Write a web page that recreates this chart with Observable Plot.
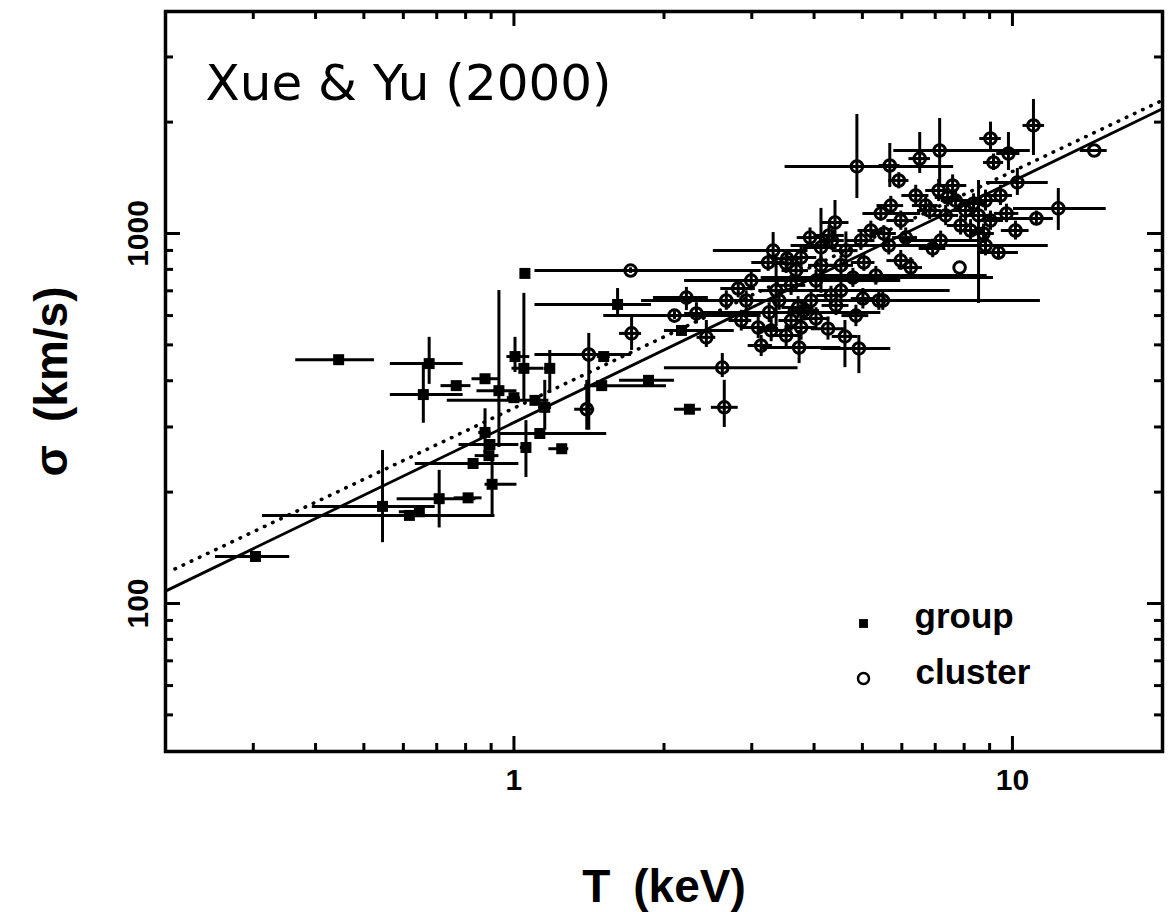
<!DOCTYPE html>
<html>
<head>
<meta charset="utf-8">
<script src="https://cdn.jsdelivr.net/npm/d3@7"></script>
<script src="https://cdn.jsdelivr.net/npm/@observablehq/plot@0.6"></script>
<style>
  html, body { margin: 0; padding: 0; background: #fff; }
  #chart svg { display: block; }
</style>
</head>
<body>
<div id="chart"></div>
<script>
// ---------------- data ----------------
// groups (filled squares)
const groupT     = [0.303,0.445,0.766,0.875,1.005,1.0,1.102,0.895,0.891,0.828,0.904,0.809,0.646,0.617,1.052,1.614,1.514,1.18,1.862,1.5,1.127,1.247,2.168,2.249,0.545,0.676,0.658,0.708,0.933,1.047,0.875,1.057,1.153];
const groupSigma = [134,456,388,405,465,360,354,269,251,239,210,193,177,173,780,643,465,432,401,388,288,262,547,335,183,445,367,192,376,432,290,264,339];
const groupTlo   = [0.252,0.365,0.714,0.824,0.968,0.97,0.735,0.776,0.836,0.634,0.875,0.759,0.589,0.313,1.03,1.102,1.47,1.15,1.629,1.387,0.933,1.175,2.004,2.099,0.394,0.565,0.565,0.583,0.843,0.991,0.85,1.03,1.12];
const groupThi   = [0.355,0.525,0.82,0.933,1.076,1.03,1.175,1.023,0.933,1.023,1.014,0.863,0.661,0.916,1.07,1.888,1.56,1.21,2.099,2.023,1.535,1.288,2.767,2.377,0.695,0.791,0.791,0.839,1.014,1.148,0.9,1.08,1.19];
const groupSlo   = [130,445,380,397,421,350,346,262,245,233,173,188,173,169,765,593,455,370,394,381,282,257,537,328,146,391,307,160,264,354,254,219,294];
const groupShi   = [138,467,396,413,524,370,362,276,257,245,251,198,181,177,795,710,475,483,408,395,294,267,557,342,259,524,445,229,701,689,336,312,401];

// clusters (open circles)
const clusterT     = [1.714,2.218,2.099,2.323,1.722,2.432,1.413,2.618,2.642,1.400,3.311,3.236,3.516,3.767,4.130,4.285,4.406,5.445,2.818,2.924,3.251,3.404,3.090,3.715,3.819,3.767,3.733,4.266,4.613,4.920,5.395,5.012,4.786,5.035,4.875,5.675,5.916,6.516,7.145,9.036,9.162,9.817,11.02,14.59,10.23,12.36,11.17,9.376,7.834,6.252,6.918,6.109,5.495,8.551,7.586,7.112,9.727,7.691,8.054,7.345,8.831,8.241,6.699,5.200,5.649,5.970,4.036,4.325,3.597,4.529,5.521,6.823,3.926,4.345,3.532,8.750,8.356,4.036,3.516,3.133,4.426,3.945,
                      7.413,7.870,9.036,9.462,7.178,6.397,5.702,4.634,4.966,3.681,3.357,4.130,4.529,4.853,3.597,3.281,2.858,2.992,2.667,5.321,5.970,8.831,10.14];
const clusterSigma = [794,671,600,608,537,524,471,434,339,335,899,835,830,861,917,988,1071,1133,710,659,612,659,557,631,619,557,492,553,527,489,659,667,760,835,1518,1527,1391,1594,1676,1806,1556,1645,1959,1676,1374,1169,1098,888,809,809,911,975,659,1119,1348,1307,1133,1228,1154,1119,1228,1019,1190,1019,928,1084,746,680,724,820,1000,1154,975,957,855,1000,1205,589,530,498,639,659,
                      1251,1051,1084,1267,957,1267,1190,899,957,794,701,820,701,600,582,547,582,746,659,770,845,928,1019];
const clusterTlo   = [1.102,1.905,1.514,2.20,1.629,2.33,1.102,2.004,2.489,1.324,2.512,3.0,3.3,3.5,3.8,4.0,4.15,5.012,2.6,1.803,2.377,3.15,2.85,3.45,3.55,3.5,3.133,3.95,4.35,4.130,5.1,4.75,3.133,4.75,3.499,5.4,5.65,6.2,5.781,8.6,8.75,9.3,10.5,13.68,8.872,10.05,8.913,8.630,7.834,5.9,6.5,5.75,4.130,8.1,7.1,6.7,9.2,7.2,7.6,6.9,8.3,7.75,6.3,4.9,3.597,5.6,2.377,4.05,3.35,4.25,5.2,6.45,3.7,4.1,3.3,8.3,7.9,3.8,3.3,2.95,4.15,3.7,
                      7.0,7.4,8.5,8.9,6.0,6.0,5.35,4.35,4.65,3.45,3.15,3.9,3.1,4.55,3.4,3.1,2.7,2.2,2.5,4.0,5.6,8.3,9.5];
const clusterThi   = [3.133,2.455,3.133,2.45,1.803,2.54,1.722,3.715,2.818,1.452,3.890,3.5,3.75,4.05,4.45,4.6,4.7,6.546,3.05,4.966,5.445,3.65,3.35,4.0,4.1,4.05,4.529,4.6,4.9,5.702,5.7,5.3,9.162,5.3,7.621,5.95,6.2,6.85,10.86,9.5,9.6,10.35,11.6,15.49,11.80,15.42,12.08,10.28,7.834,6.6,7.35,6.45,11.38,9.0,8.1,7.5,10.3,8.2,8.55,7.8,9.4,8.75,7.1,5.5,11.80,6.35,5.970,4.6,3.85,4.8,5.85,7.2,4.15,4.6,3.75,9.2,8.8,4.3,3.75,3.3,4.7,4.2,
                      7.85,8.35,9.6,10.0,8.6,6.8,6.05,4.9,5.3,3.9,3.55,4.4,7.5,5.15,3.8,3.5,3.0,3.6,2.85,8.9,6.35,9.4,10.8];
const clusterSlo   = [780,619,585,570,483,492,294,408,299,294,809,790,780,800,689,930,957,1080,670,620,575,620,520,590,580,515,445,515,434,418,620,625,715,790,1243,1331,1320,1453,1331,1655,1480,1480,1625,1676,1267,1019,1050,860,809,760,860,920,620,647,1260,1220,1070,1150,1080,1050,1150,950,1110,960,875,1020,700,640,680,770,950,1090,920,900,805,940,1130,550,495,465,600,620,
                      1180,990,1020,1190,900,1190,1120,800,900,745,560,770,660,560,545,510,545,700,620,725,795,870,960];
const clusterShi   = [808,715,615,650,593,582,537,474,401,401,1006,880,880,920,1169,1050,1228,1190,750,700,650,700,600,675,660,600,547,595,582,530,700,710,805,880,2097,1751,1460,1875,2046,2000,1640,1875,2303,1676,1499,1323,1150,915,809,860,965,1035,700,1391,1440,1400,1200,1310,1230,1190,1310,1090,1270,1080,985,1150,795,720,770,870,1050,1220,1035,1015,905,1060,1280,630,565,530,680,700,
                      1330,1115,1150,1350,1015,1350,1260,1010,1015,845,880,870,745,640,620,585,620,795,700,815,900,990,1080];

// fitted relations (end points)
const fitSolidT = [0.2, 20];
const fitSolidSigma = [108, 2173];
const fitDotT = [0.209, 20];
const fitDotSigma = [124, 2291];

// axes
const xMajorTicks = [1, 10];
const xTickLabels = ["1", "10"];
const xMinorTicks = [0.3,0.4,0.5,0.6,0.7,0.8,0.9,2,3,4,5,6,7,8,9];
const yMajorTicks = [100, 1000];
const yTickLabels = ["100", "1000"];
const yMinorTicks = [50,60,70,80,90,200,300,400,500,600,700,800,900,2000,3000];

const titleText = "Xue & Yu (2000)";
const xLabel = "T\u2002(keV)";
const yLabel = "\u03c3\u2002(km/s)";
const legendLabels = ["group", "cluster"];

// ---------------- build ----------------
const W = 1176, H = 912, mT = 11, mB = 161, mL = 165, mR = 14;
const plotH = H - mT - mB, plotW = W - mL - mR;

const groups = groupT.map((t, i) => ({T: t, S: groupSigma[i], Tlo: groupTlo[i], Thi: groupThi[i], Slo: groupSlo[i], Shi: groupShi[i]}));
const clusters = clusterT.map((t, i) => ({T: t, S: clusterSigma[i], Tlo: clusterTlo[i], Thi: clusterThi[i], Slo: clusterSlo[i], Shi: clusterShi[i]}));
const all = groups.concat(clusters);
const solid = fitSolidT.map((t, i) => ({T: t, S: fitSolidSigma[i]}));
const dotted = fitDotT.map((t, i) => ({T: t, S: fitDotSigma[i]}));

const sans = "'Liberation Sans', Arial, Helvetica, sans-serif";
const minorLen = 8, majorLen = 15;

const chart = Plot.plot({
  width: W, height: H,
  marginTop: mT, marginBottom: mB, marginLeft: mL, marginRight: mR,
  style: {background: "#fff", fontFamily: sans, color: "black"},
  x: {type: "log", domain: [0.2, 20], axis: null},
  y: {type: "log", domain: [39.81, 3981], axis: null},
  marks: [
    // error bars
    Plot.ruleY(all, {y: "S", x1: "Tlo", x2: "Thi", stroke: "black", strokeWidth: 3}),
    Plot.ruleX(all, {x: "T", y1: "Slo", y2: "Shi", stroke: "black", strokeWidth: 3}),
    // fits
    Plot.line(solid, {x: "T", y: "S", stroke: "black", strokeWidth: 2.8}),
    Plot.line(dotted, {x: "T", y: "S", stroke: "black", strokeWidth: 3.6, strokeDasharray: "0.5,8.5", strokeLinecap: "round"}),
    // points
    Plot.dot(groups, {x: "T", y: "S", symbol: "square", fill: "black", r: 6.2}),
    Plot.dot(clusters, {x: "T", y: "S", symbol: "circle", fill: "none", stroke: "black", strokeWidth: 3, r: 5.8}),
    // ticks (inward, all four sides)
    Plot.ruleX(xMinorTicks, {x: d => d, insetTop: plotH - minorLen, stroke: "black", strokeWidth: 3}),
    Plot.ruleX(xMinorTicks, {x: d => d, insetBottom: plotH - minorLen, stroke: "black", strokeWidth: 3}),
    Plot.ruleX(xMajorTicks, {x: d => d, insetTop: plotH - majorLen, stroke: "black", strokeWidth: 3}),
    Plot.ruleX(xMajorTicks, {x: d => d, insetBottom: plotH - majorLen, stroke: "black", strokeWidth: 3}),
    Plot.ruleY(yMinorTicks, {y: d => d, insetRight: plotW - minorLen, stroke: "black", strokeWidth: 3}),
    Plot.ruleY(yMinorTicks, {y: d => d, insetLeft: plotW - minorLen, stroke: "black", strokeWidth: 3}),
    Plot.ruleY(yMajorTicks, {y: d => d, insetRight: plotW - majorLen, stroke: "black", strokeWidth: 3}),
    Plot.ruleY(yMajorTicks, {y: d => d, insetLeft: plotW - majorLen, stroke: "black", strokeWidth: 3}),
    Plot.frame({stroke: "black", strokeWidth: 3.5}),
    // tick labels
    Plot.text(xMajorTicks, {x: d => d, text: (d, i) => xTickLabels[i], frameAnchor: "bottom", lineAnchor: "top", dy: 17,
      fontSize: 30, fontWeight: "bold", fill: "black"}),
    Plot.text(yMajorTicks, {y: d => d, text: (d, i) => yTickLabels[i], frameAnchor: "left", rotate: -90, textAnchor: "middle",
      lineAnchor: "bottom", dx: -18, fontSize: 30, fontWeight: "bold", fill: "black"}),
    // axis titles
    Plot.text([xLabel], {text: d => d, frameAnchor: "bottom", lineAnchor: "bottom", dy: 150, fontSize: 46, fontWeight: "bold", fill: "black"}),
    Plot.text([yLabel], {text: d => d, frameAnchor: "left", rotate: -90, textAnchor: "middle", lineAnchor: "bottom", dx: -99,
      fontSize: 46, fontWeight: "bold", fill: "black", letterSpacing: 2}),
    // title inside the frame
    Plot.text([titleText], {text: d => d, frameAnchor: "top-left", textAnchor: "start", lineAnchor: "bottom", dx: 40, dy: 88,
      fontFamily: "'DejaVu Sans', sans-serif", fontSize: 50, fill: "black"}),
    // legend
    Plot.dot([legendLabels[0]], {frameAnchor: "bottom-left", dx: 698, dy: -128, symbol: "square", fill: "black", r: 5}),
    Plot.dot([legendLabels[1]], {frameAnchor: "bottom-left", dx: 698, dy: -73, symbol: "circle", fill: "none", stroke: "black", strokeWidth: 2.5, r: 5.5}),
    Plot.text([legendLabels[0]], {text: d => d, frameAnchor: "bottom-left", textAnchor: "start", lineAnchor: "bottom", dx: 749, dy: -124,
      fontSize: 35, fontWeight: "bold", fill: "black"}),
    Plot.text([legendLabels[1]], {text: d => d, frameAnchor: "bottom-left", textAnchor: "start", lineAnchor: "bottom", dx: 750, dy: -68,
      fontSize: 35, fontWeight: "bold", fill: "black"})
  ]
});
document.getElementById("chart").appendChild(chart);
</script>
</body>
</html>
